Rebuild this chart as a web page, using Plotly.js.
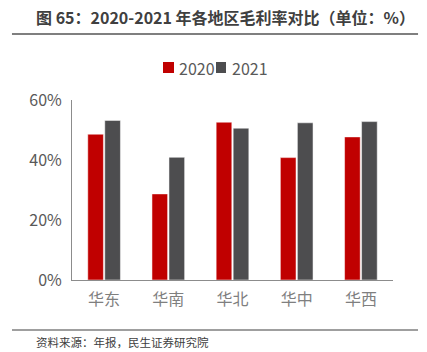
<!DOCTYPE html>
<html>
<head>
<meta charset="utf-8">
<script src="https://cdn.plot.ly/plotly-3.0.1.min.js"></script>
<style>html,body{margin:0;padding:0;background:#fff;}#chart{width:427px;height:352px;}</style>
</head>
<body>
<div id="chart"></div>
<script>
const categories = ["华东", "华南", "华北", "华中", "华西"];
const series2020 = [0.486, 0.287, 0.526, 0.408, 0.477];
const series2021 = [0.532, 0.409, 0.506, 0.524, 0.528];
const seriesNames = ["2020", "2021"];
const seriesColors = ["#C00000", "#4D4D4F"];
const yTickVals = [0, 0.2, 0.4, 0.6];
const yTickText = ["0%", "20%", "40%", "60%"];
const titleText = "图 65：2020-2021 年各地区毛利率对比（单位：%）";
const sourceText = "资料来源：年报，民生证券研究院";

const FONT = '"Microsoft YaHei", "Noto Sans CJK SC", "Noto Sans", sans-serif';

const traces = [
  {type: 'bar', x: categories, y: series2020, name: seriesNames[0], showlegend: false,
   marker: {color: seriesColors[0], line: {color: '#ffffff', width: 0.5}}},
  {type: 'bar', x: categories, y: series2021, name: seriesNames[1], showlegend: false,
   marker: {color: seriesColors[1], line: {color: '#ffffff', width: 0.5}}}
];

// custom legend (paper coords)
const legSq = [[0.2835, 0.3178], [0.4486, 0.4798]];
const legTx = [0.327, 0.4922];

const layout = {
  width: 427, height: 352,
  margin: {l: 72, r: 34, t: 100, b: 72},
  paper_bgcolor: '#fff', plot_bgcolor: '#fff',
  font: {family: FONT, color: '#595959', size: 14},
  barmode: 'group', bargap: 0.47, bargroupgap: 0.08,
  showlegend: false,
  xaxis: {showline: true, linecolor: '#8C8C8C', linewidth: 1, showgrid: false,
          ticks: 'outside', ticklen: 5, tickcolor: 'rgba(0,0,0,0)',
          tickfont: {size: 16, color: '#7F7F7F'}, fixedrange: true},
  yaxis: {range: [0, 0.6], tickvals: yTickVals, ticktext: yTickText,
          showline: true, linecolor: '#8C8C8C', linewidth: 1, showgrid: false, zeroline: false,
          ticks: 'outside', ticklen: 6, tickcolor: 'rgba(0,0,0,0)',
          tickfont: {size: 16, color: '#595959'}, fixedrange: true},
  annotations: [
    {xref: 'paper', yref: 'paper', x: -0.119, y: 1.461, xanchor: 'left', yanchor: 'middle',
     text: '<b>' + titleText + '</b>', showarrow: false,
     font: {size: 16, color: '#404040', family: FONT}},
    {xref: 'paper', yref: 'paper', x: -0.119, y: -0.345, xanchor: 'left', yanchor: 'middle',
     text: sourceText, showarrow: false,
     font: {size: 11.5, color: '#404040', family: FONT}},
    {xref: 'paper', yref: 'paper', x: legTx[0], y: 1.178, xanchor: 'left', yanchor: 'middle',
     text: seriesNames[0], showarrow: false, font: {size: 16, color: '#595959', family: FONT}},
    {xref: 'paper', yref: 'paper', x: legTx[1], y: 1.178, xanchor: 'left', yanchor: 'middle',
     text: seriesNames[1], showarrow: false, font: {size: 16, color: '#595959', family: FONT}}
  ],
  shapes: [
    {type: 'line', xref: 'paper', yref: 'paper', x0: -0.187, x1: 1.078, y0: 1.3667, y1: 1.3667,
     line: {color: '#7F7F7F', width: 2}},
    {type: 'line', xref: 'paper', yref: 'paper', x0: -0.187, x1: 1.078, y0: -0.2778, y1: -0.2778,
     line: {color: '#7F7F7F', width: 1.5}},
    {type: 'rect', xref: 'paper', yref: 'paper', x0: legSq[0][0], x1: legSq[0][1], y0: 1.15, y1: 1.211,
     fillcolor: seriesColors[0], line: {width: 0}},
    {type: 'rect', xref: 'paper', yref: 'paper', x0: legSq[1][0], x1: legSq[1][1], y0: 1.15, y1: 1.211,
     fillcolor: seriesColors[1], line: {width: 0}}
  ]
};

Plotly.newPlot('chart', traces, layout, {displayModeBar: false, staticPlot: true});
</script>
</body>
</html>
